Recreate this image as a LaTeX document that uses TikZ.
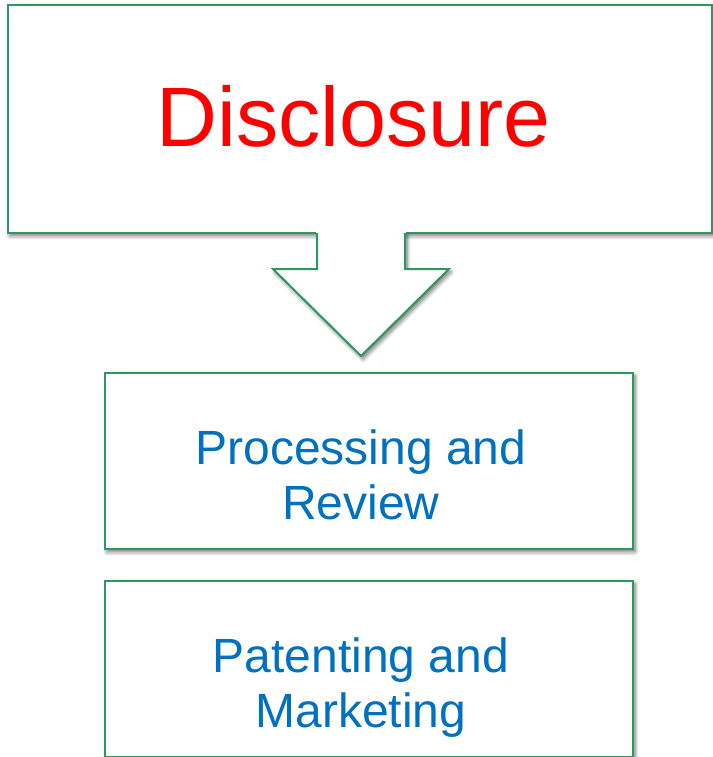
\documentclass[tikz,border=0pt]{standalone}
\usepackage{fontspec}
\setmainfont{Liberation Sans}
\usetikzlibrary{shadows.blur}
\definecolor{boxgreen}{RGB}{46,150,98}
\definecolor{txtblue}{RGB}{0,112,192}
\definecolor{txtred}{RGB}{255,0,0}
\tikzset{
  shd/.style={blur shadow={shadow xshift=1.5pt, shadow yshift=-2.2pt, shadow blur radius=3pt, shadow blur steps=8, shadow opacity=55}},
  stepbox/.style={draw=boxgreen, line width=1.5pt, fill=white, shd, inner sep=0pt},
  bluetxt/.style={text=txtblue, font=\fontsize{36}{41}\selectfont, anchor=base, inner sep=0pt},
}
\begin{document}
\begin{tikzpicture}[x=0.75pt,y=-0.75pt]
\useasboundingbox (0,0) rectangle (713,757);
\begin{scope}
\clip (0,0) rectangle (713,757);
% top box
\node[stepbox, minimum width=704*0.75pt, minimum height=228*0.75pt] (top) at (360,119) {};
\node[text=txtred, font=\fontsize{63.3}{70}\selectfont, anchor=base, inner sep=0pt] (disc) at (353.5,146) {Disclosure};
% arrow
\coordinate (a1) at (317,233);
\coordinate (a2) at (317,269);
\coordinate (a3) at (273,269);
\coordinate (tip) at (361,356);
\coordinate (a5) at (449,269);
\coordinate (a6) at (405,269);
\coordinate (a7) at (405,233);
\fill[white, shd] (a1) -- (a2) -- (a3) -- (tip) -- (a5) -- (a6) -- (a7) -- cycle;
\fill[white] (316,228) rectangle (406,236);
\draw[boxgreen, line width=1.5pt, line join=miter] (a1) -- (a2) -- (a3) -- (tip) -- (a5) -- (a6) -- (a7);
% box 2
\node[stepbox, minimum width=528*0.75pt, minimum height=176*0.75pt] (proc) at (369,461) {};
\node[bluetxt] (p1) at (361,464) {Processing and};
\node[bluetxt] (p2) at (361,519) {Review};
% box 3
\node[stepbox, minimum width=528*0.75pt, minimum height=176*0.75pt] (pat) at (369,669) {};
\node[bluetxt] (q1) at (361,672) {Patenting and};
\node[bluetxt] (q2) at (361,727) {Marketing};
\end{scope}
\end{tikzpicture}
\end{document}
